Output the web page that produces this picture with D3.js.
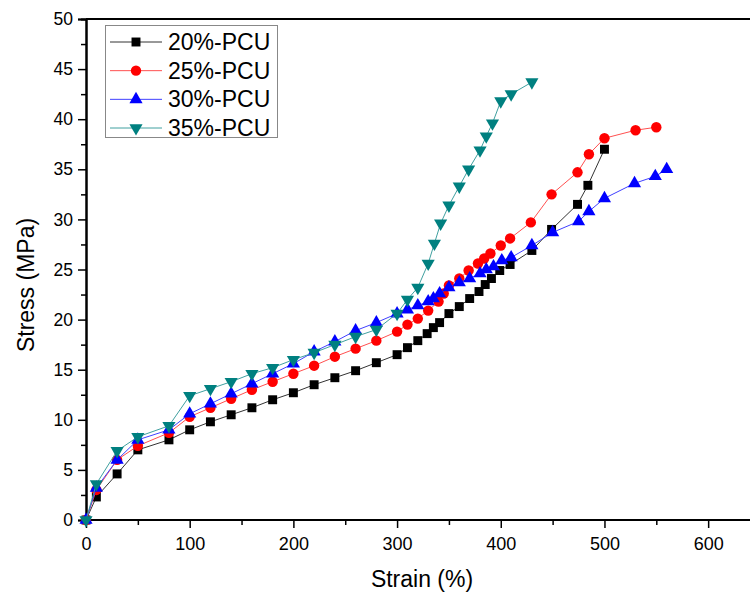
<!DOCTYPE html>
<html>
<head>
<meta charset="utf-8">
<script src="https://cdnjs.cloudflare.com/ajax/libs/d3/7.8.5/d3.min.js"></script>
<style>
  body { margin: 0; background: #fff; }
  text { font-family: "Liberation Sans", Arial, sans-serif; }
</style>
</head>
<body>
<div id="chart"></div>
<script>
// values
const strain20 = [0, 10, 30, 50, 80, 100, 120, 140, 160, 180, 200, 220, 240, 260, 280, 300, 310, 320, 329, 335, 341, 350, 360, 370, 379, 385, 391, 399, 409, 430, 449, 474, 484, 500];
const stress20 = [0, 2.3, 4.6, 7.0, 8.0, 9.0, 9.8, 10.5, 11.2, 12.0, 12.7, 13.5, 14.2, 14.9, 15.7, 16.5, 17.2, 17.9, 18.6, 19.2, 19.7, 20.6, 21.3, 22.1, 22.8, 23.5, 24.1, 24.9, 25.5, 26.9, 29.0, 31.5, 33.4, 37.0];

const strain25 = [0, 10, 30, 50, 80, 100, 120, 140, 160, 180, 200, 220, 240, 260, 280, 300, 310, 320, 330, 340, 345, 350, 360, 369, 378, 384, 390, 400, 409, 429, 449, 474, 485, 500, 530, 550];
const stress25 = [0, 3.0, 6.0, 7.4, 8.7, 10.3, 11.2, 12.1, 13.0, 13.8, 14.6, 15.4, 16.3, 17.1, 17.9, 18.8, 19.5, 20.1, 20.9, 21.8, 22.6, 23.4, 24.1, 24.9, 25.6, 26.1, 26.6, 27.4, 28.1, 29.7, 32.5, 34.7, 36.5, 38.1, 38.9, 39.2];

const strain30 = [0, 10, 30, 50, 80, 100, 120, 140, 160, 180, 200, 220, 240, 260, 280, 300, 310, 320, 330, 335, 341, 350, 360, 370, 380, 386, 393, 401, 410, 430, 450, 475, 485, 500, 529, 549, 560];
const stress30 = [0, 3.2, 6.0, 8.0, 9.0, 10.6, 11.6, 12.6, 13.6, 14.6, 15.6, 16.8, 17.8, 18.9, 19.7, 20.6, 21.0, 21.4, 21.8, 22.1, 22.6, 23.2, 23.7, 24.1, 24.6, 25.0, 25.3, 25.9, 26.2, 27.4, 28.7, 29.8, 30.8, 32.1, 33.6, 34.3, 35.0];

const strain35 = [0, 10, 30, 50, 80, 100, 120, 140, 160, 180, 200, 220, 240, 260, 280, 300, 310, 320, 330, 336, 342, 350, 360, 369, 380, 386, 392, 400, 410, 430];
const stress35 = [0, 3.6, 6.9, 8.3, 9.4, 12.4, 13.1, 13.8, 14.6, 15.2, 16.0, 16.7, 17.5, 18.3, 19.0, 20.6, 22.0, 23.2, 25.6, 27.6, 29.6, 31.4, 33.3, 35.0, 36.9, 38.3, 39.6, 41.8, 42.5, 43.7];

const seriesNames = ["20%-PCU", "25%-PCU", "30%-PCU", "35%-PCU"];
const xTicks = [0, 100, 200, 300, 400, 500, 600];
const yTicks = [0, 5, 10, 15, 20, 25, 30, 35, 40, 45, 50];

const series = [
  {name: seriesNames[0], x: strain20, y: stress20, color: "#000000", line: "#333333", shape: d3.symbolSquare, size: 80, rot: 0},
  {name: seriesNames[1], x: strain25, y: stress25, color: "#ff0000", line: "#ff5050", shape: d3.symbolCircle, size: 85, rot: 0},
  {name: seriesNames[2], x: strain30, y: stress30, color: "#0000ff", line: "#4040ff", shape: d3.symbolTriangle, size: 75, rot: 0},
  {name: seriesNames[3], x: strain35, y: stress35, color: "#008080", line: "#40a0a0", shape: d3.symbolTriangle, size: 75, rot: 180}
];

const W = 750, H = 599;
const svg = d3.select("#chart").append("svg")
  .attr("width", W).attr("height", H);

const x = d3.scaleLinear().domain([0, 650]).range([86, 760]);
const y = d3.scaleLinear().domain([0, 50]).range([520, 19]);

// top frame line
svg.append("line")
  .attr("x1", x(0)).attr("x2", W + 10)
  .attr("y1", y(50)).attr("y2", y(50))
  .attr("stroke", "#000").attr("stroke-width", 2);

// x axis
const xAxis = svg.append("g")
  .attr("transform", "translate(0," + y(0) + ")")
  .call(d3.axisBottom(x).tickValues(xTicks).tickSize(8).tickPadding(9).tickFormat(d3.format("d")));
xAxis.append("g")
  .call(d3.axisBottom(x).tickValues(d3.range(50, 651, 100)).tickSize(5).tickFormat(""));
xAxis.selectAll(".domain").attr("d", "M" + x(0) + ",0H" + (W + 10)).attr("stroke-width", 2);
xAxis.selectAll(".tick line").attr("stroke-width", 1.5);
xAxis.selectAll("text").attr("font-size", 18).attr("fill", "#000");

// y axis
const yAxis = svg.append("g")
  .attr("transform", "translate(" + x(0) + ",0)")
  .call(d3.axisLeft(y).tickValues(yTicks).tickSize(8).tickPadding(5));
yAxis.append("g")
  .call(d3.axisLeft(y).tickValues(d3.range(2.5, 50, 5)).tickSize(5).tickFormat(""));
yAxis.selectAll(".domain").attr("stroke-width", 2);
yAxis.selectAll(".tick line").attr("stroke-width", 1.5);
yAxis.selectAll("text").attr("font-size", 17.5).attr("fill", "#000");

// axis titles
svg.append("text")
  .attr("x", 422).attr("y", 587)
  .attr("text-anchor", "middle").attr("font-size", 23)
  .text("Strain (%)");
svg.append("text")
  .attr("transform", "translate(34,285) rotate(-90)")
  .attr("text-anchor", "middle").attr("font-size", 23)
  .text("Stress (MPa)");

// series
const line = d3.line();
series.forEach(s => {
  const pts = s.x.map((v, i) => [x(v), y(s.y[i])]);
  const g = svg.append("g");
  g.append("path")
    .attr("d", line(pts))
    .attr("fill", "none")
    .attr("stroke", s.line)
    .attr("stroke-width", 1);
  g.selectAll("path.m")
    .data(pts)
    .enter().append("path")
    .attr("class", "m")
    .attr("d", d3.symbol().type(s.shape).size(s.size))
    .attr("transform", d => "translate(" + d[0] + "," + d[1] + ") rotate(" + s.rot + ")")
    .attr("fill", s.color);
});

// legend
const lg = svg.append("g");
lg.append("rect")
  .attr("x", 105.5).attr("y", 25.5).attr("width", 172).attr("height", 112)
  .attr("fill", "#fff").attr("stroke", "#888").attr("stroke-width", 1);
const legY = d3.scalePoint().domain(seriesNames).range([42, 128]);
series.forEach(s => {
  const yy = legY(s.name);
  lg.append("line")
    .attr("x1", 110).attr("x2", 162).attr("y1", yy).attr("y2", yy)
    .attr("stroke", s.line).attr("stroke-width", 1);
  lg.append("path")
    .attr("d", d3.symbol().type(s.shape).size(s.size))
    .attr("transform", "translate(136," + yy + ") rotate(" + s.rot + ")")
    .attr("fill", s.color);
  lg.append("text")
    .attr("x", 168).attr("y", yy + 8)
    .attr("font-size", 23)
    .text(s.name);
});
</script>
</body>
</html>
